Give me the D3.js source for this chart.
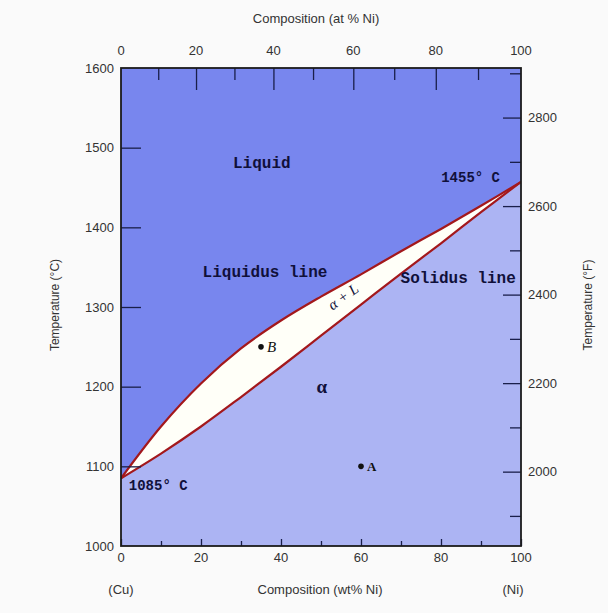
<!DOCTYPE html>
<html>
<head>
<meta charset="utf-8">
<script src="https://cdn.jsdelivr.net/npm/d3@7/dist/d3.min.js"></script>
<style>
  body { margin: 0; background: #fafafa; }
  text { font-family: "Liberation Sans", Arial, sans-serif; fill: #333; }
</style>
</head>
<body>
<div id="chart"></div>
<script>
// Cu-Ni phase diagram (wt% Ni, deg C)
var liquidusComp = [0, 10, 20, 30, 40, 50, 60, 70, 80, 90, 100];
var liquidusTemp = [1085, 1150, 1204, 1248, 1283, 1313, 1341, 1370, 1398, 1427, 1457];
var solidusComp = [0, 10, 20, 30, 40, 50, 60, 70, 80, 90, 100];
var solidusTemp = [1085, 1116, 1150, 1187, 1225, 1264, 1303, 1342, 1380, 1419, 1457];

// marked alloys
var pointNames = ["B", "A"];
var pointComp = [35, 60];
var pointTemp = [1250, 1100];

// tick values
var wtTicks = [0, 10, 20, 30, 40, 50, 60, 70, 80, 90, 100];
var wtLabels = [0, 20, 40, 60, 80, 100];
var atTicks = [10, 20, 30, 40, 50, 60, 70, 80, 90];
var atLabels = [0, 20, 40, 60, 80, 100];
var tempCTicks = [1000, 1100, 1200, 1300, 1400, 1500, 1600];
var tempFTicks = [1900, 2000, 2100, 2200, 2300, 2400, 2500, 2600, 2700, 2800, 2900];
var tempFLabels = [2000, 2200, 2400, 2600, 2800];

var W = 608, H = 613;
var svg = d3.select("#chart").append("svg")
    .attr("width", W)
    .attr("height", H);

var x = d3.scaleLinear().domain([0, 100]).range([121, 521]);
var y = d3.scaleLinear().domain([1000, 1600]).range([546, 68]);

// at% Ni -> wt% Ni (Ni 58.69, Cu 63.55)
function atToWt(a){
    return 100 * a * 58.69 / (a * 58.69 + (100 - a) * 63.55);
}
function fToC(f){
    return (f - 32) * 5 / 9;
}

var liquidus = liquidusComp.map(function(c, i){ return {c: c, t: liquidusTemp[i]}; });
var solidus = solidusComp.map(function(c, i){ return {c: c, t: solidusTemp[i]}; });

svg.append("clipPath").attr("id", "plot")
  .append("rect")
    .attr("x", x(0)).attr("y", y(1600))
    .attr("width", x(100) - x(0)).attr("height", y(1000) - y(1600));

var g = svg.append("g").attr("clip-path", "url(#plot)");

// liquid region (whole plot first)
g.append("rect")
    .attr("x", x(0)).attr("y", y(1600))
    .attr("width", x(100) - x(0)).attr("height", y(1000) - y(1600))
    .style("fill", "#7886ee");

var smooth = d3.curveCatmullRom.alpha(0.5);

var below = d3.area()
    .curve(smooth)
    .x(function(d){ return x(d.c); })
    .y0(y(1000))
    .y1(function(d){ return y(d.t); });

// two phase region
g.append("path").datum(liquidus).attr("d", below).style("fill", "#fffff8");
// alpha region
g.append("path").datum(solidus).attr("d", below).style("fill", "#acb4f3");

var line = d3.line()
    .curve(smooth)
    .x(function(d){ return x(d.c); })
    .y(function(d){ return y(d.t); });

[liquidus, solidus].forEach(function(d){
    g.append("path").datum(d).attr("d", line)
      .style("fill", "none")
      .style("stroke", "#a3181c")
      .style("stroke-width", 2.2);
});

// ticks (all point into the plot)
function ticks(axis, vals, size, tr){
    var a = svg.append("g").attr("transform", tr)
        .call(axis.tickValues(vals).tickSize(-size).tickFormat(""));
    a.select(".domain").remove();
    a.selectAll("line").style("stroke", "#1a1f4a").style("stroke-width", 1.3);
}
ticks(d3.axisBottom(x), wtTicks.filter(function(v){ return v % 20 == 0; }), 7, "translate(0," + y(1000) + ")");
ticks(d3.axisBottom(x), wtTicks.filter(function(v){ return v % 20 != 0; }), 5, "translate(0," + y(1000) + ")");
ticks(d3.axisTop(x), atTicks.filter(function(v){ return v % 20 == 0; }).map(atToWt), 22, "translate(0," + y(1600) + ")");
ticks(d3.axisTop(x), atTicks.filter(function(v){ return v % 20 != 0; }).map(atToWt), 12, "translate(0," + y(1600) + ")");
ticks(d3.axisLeft(y), tempCTicks.slice(1, -1), 20, "translate(" + x(0) + ",0)");
ticks(d3.axisRight(y), tempFTicks.filter(function(v){ return v % 200 == 0; }).map(fToC), 18, "translate(" + x(100) + ",0)");
ticks(d3.axisRight(y), tempFTicks.filter(function(v){ return v % 200 != 0; }).map(fToC), 11, "translate(" + x(100) + ",0)");

// frame
svg.append("rect")
    .attr("x", x(0)).attr("y", y(1600))
    .attr("width", x(100) - x(0)).attr("height", y(1000) - y(1600))
    .style("fill", "none")
    .style("stroke", "#1b1b1b")
    .style("stroke-width", 1.8);

// tick labels
var fs = "13px";
svg.selectAll(".wtl").data(wtLabels).enter().append("text")
    .attr("x", function(d){ return x(d); })
    .attr("y", y(1000) + 16)
    .attr("text-anchor", "middle").style("font-size", fs)
    .text(function(d){ return d; });
svg.selectAll(".atl").data(atLabels).enter().append("text")
    .attr("x", function(d){ return x(atToWt(d)); })
    .attr("y", y(1600) - 13)
    .attr("text-anchor", "middle").style("font-size", fs)
    .text(function(d){ return d; });
svg.selectAll(".tcl").data(tempCTicks).enter().append("text")
    .attr("x", x(0) - 7)
    .attr("y", function(d){ return y(d); })
    .attr("dy", "0.35em")
    .attr("text-anchor", "end").style("font-size", fs)
    .text(function(d){ return d; });
svg.selectAll(".tfl").data(tempFLabels).enter().append("text")
    .attr("x", x(100) + 7)
    .attr("y", function(d){ return y(fToC(d)); })
    .attr("dy", "0.35em")
    .attr("text-anchor", "start").style("font-size", fs)
    .text(function(d){ return d; });

// axis titles
svg.append("text").attr("x", 316).attr("y", 23)
    .attr("text-anchor", "middle").style("font-size", fs)
    .text("Composition  (at % Ni)");
svg.append("text").attr("x", 320).attr("y", 594)
    .attr("text-anchor", "middle").style("font-size", fs)
    .text("Composition (wt% Ni)");
svg.append("text").attr("x", x(0)).attr("y", 594)
    .attr("text-anchor", "middle").style("font-size", fs)
    .text("(Cu)");
svg.append("text").attr("x", x(100) - 8).attr("y", 594)
    .attr("text-anchor", "middle").style("font-size", fs)
    .text("(Ni)");
svg.append("text")
    .attr("transform", "translate(59,305) rotate(-90)")
    .attr("text-anchor", "middle").style("font-size", "12px")
    .text("Temperature (°C)");
svg.append("text")
    .attr("transform", "translate(592,305) rotate(-90)")
    .attr("text-anchor", "middle").style("font-size", "12px")
    .text("Temperature (°F)");

// region annotations
function note(txt, c, t, size, font, weight, style){
    return svg.append("text")
        .attr("x", x(c)).attr("y", y(t))
        .attr("dy", "0.35em")
        .attr("text-anchor", "middle")
        .style("font-family", font)
        .style("font-size", size)
        .style("font-weight", weight)
        .style("font-style", style || "normal")
        .style("fill", "#10103a")
        .text(txt);
}
var mono = "'Liberation Mono', 'Courier New', monospace";
var serif = "'Liberation Serif', 'Times New Roman', serif";
note("Liquid", 35.2, 1481, "16px", mono, "bold");
note("Liquidus line", 36, 1345, "16px", mono, "bold");
note("Solidus line", 84.3, 1337, "16px", mono, "bold");
note("1455° C", 87.4, 1463, "14px", mono, "bold");
note("1085° C", 9.3, 1077, "14px", mono, "bold");
note("α", 50.2, 1200, "19px", serif, "bold");
note("α + L", 0, 0, "15px", serif, "normal", "italic")
    .attr("x", 0).attr("y", 0)
    .attr("transform", "translate(" + x(55.5) + "," + y(1313) + ") rotate(-36)");

// marked alloys
svg.selectAll(".pt").data(pointNames).enter().append("circle")
    .attr("cx", function(d, i){ return x(pointComp[i]); })
    .attr("cy", function(d, i){ return y(pointTemp[i]); })
    .attr("r", 2.8)
    .style("fill", "#111");
svg.selectAll(".ptl").data(pointNames).enter().append("text")
    .attr("x", function(d, i){ return x(pointComp[i]) + 6; })
    .attr("y", function(d, i){ return y(pointTemp[i]); })
    .attr("dy", "0.35em")
    .style("font-family", serif)
    .style("font-size", function(d){ return d == "B" ? "15px" : "13px"; })
    .style("font-style", function(d){ return d == "B" ? "italic" : "normal"; })
    .style("font-weight", function(d){ return d == "B" ? "normal" : "bold"; })
    .style("fill", "#111")
    .text(function(d){ return d; });
</script>
</body>
</html>
